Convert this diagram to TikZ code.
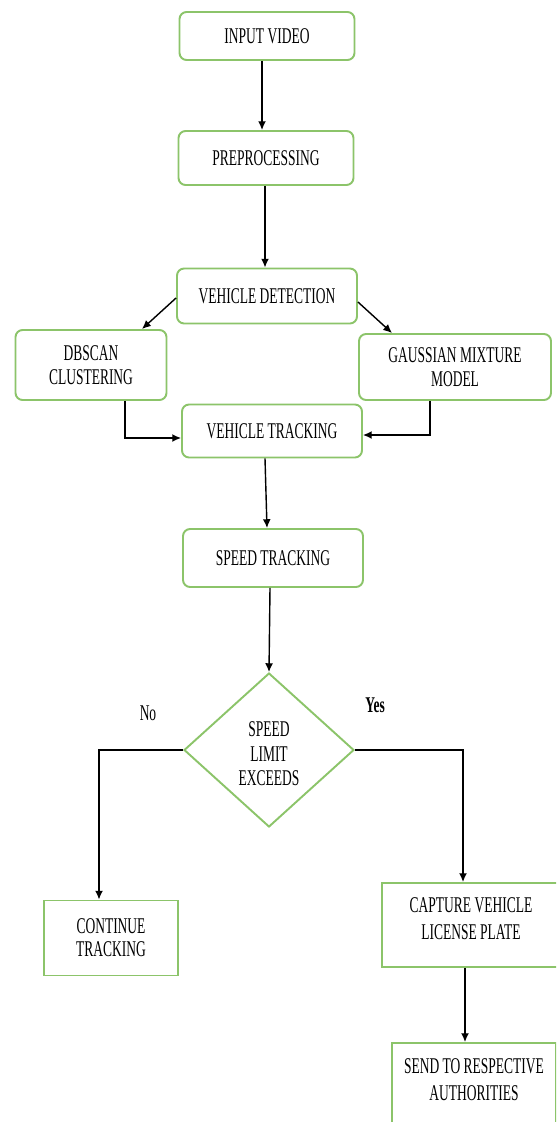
\documentclass[tikz,border=0pt]{standalone}
\usepackage{fontspec}
\setmainfont[FakeStretch=0.6]{Liberation Serif}
\usetikzlibrary{shapes.geometric,arrows.meta}

\definecolor{boxgreen}{RGB}{140,196,106}

\tikzset{
  stepbox/.style={draw=boxgreen, line width=1.1pt, rounded corners=4pt,
    align=center, inner sep=2pt, font=\fontsize{12.8}{14}\selectfont},
  plainbox/.style={stepbox, sharp corners},
  decision/.style={draw=boxgreen, line width=1.1pt, diamond, aspect=1.1,
    align=center, inner sep=0pt, font=\fontsize{12.8}{14}\selectfont},
  flow/.style={draw=black, line width=0.8pt, -{Latex[length=5pt,width=4.5pt]}},
  answer/.style={font=\fontsize{12.8}{14}\selectfont},
}

\begin{document}
\begin{tikzpicture}[%every path/.style={black,thick},
  x=0.02cm, y=-0.02cm]
  \useasboundingbox (0,0) rectangle (556,1122);
  \clip (0,0) rectangle (556,1122);

  \node[stepbox, minimum width=3.5cm, minimum height=0.96cm] (input) at (267,36) {INPUT VIDEO};
  \node[stepbox, minimum width=3.5cm, minimum height=1.08cm] (prep) at (266,158) {PREPROCESSING};
  \node[stepbox, minimum width=3.6cm, minimum height=1.1cm] (detect) at (267,296) {VEHICLE DETECTION};
  \node[stepbox, minimum width=3.02cm, minimum height=1.4cm] (dbscan) at (91,365) {DBSCAN\\CLUSTERING};
  \node[stepbox, minimum width=3.84cm, minimum height=1.32cm] (gmm) at (455,367) {GAUSSIAN MIXTURE\\MODEL};
  \node[stepbox, minimum width=3.6cm, minimum height=1.06cm] (vtrack) at (272,431) {VEHICLE TRACKING};
  \node[stepbox, minimum width=3.6cm, minimum height=1.16cm] (speed) at (273,558) {SPEED TRACKING};
  \node[decision, minimum width=3.4cm, minimum height=3.08cm] (limit) at (269,750) {\mbox{}\\[-1pt]SPEED\\LIMIT\\EXCEEDS};
  \node[plainbox, minimum width=2.68cm, minimum height=1.5cm, font=\fontsize{12.8}{13}\selectfont] (cont) at (111,938) {CONTINUE\\TRACKING};
  \node[plainbox, minimum width=3.56cm, minimum height=1.68cm, font=\fontsize{12.8}{15.5}\selectfont] (capture) at (471,925) {CAPTURE VEHICLE\\LICENSE PLATE\\[-8pt]\mbox{}};
  \node[plainbox, minimum width=3.28cm, minimum height=1.72cm, font=\fontsize{12.8}{15.5}\selectfont] (send) at (474,1086) {SEND TO RESPECTIVE\\AUTHORITIES\\[-8pt]\mbox{}};

  \node[answer] (no) at (148,713) {No};
  \node[answer, font=\fontsize{12.8}{14}\selectfont\bfseries] (yes) at (375,705) {Yes};

  \draw[flow] ([shift={(-5,0)}]input.south) -- ([shift={(-4,0)}]prep.north);
  \draw[flow] ([shift={(-1,0)}]prep.south) -- ([shift={(-2,0)}]detect.north);
  \draw[flow] ([shift={(0,2)}]detect.west) -- ([shift={(51,0)}]dbscan.north);
  \draw[flow] ([shift={(0,6)}]detect.east) -- ([shift={(-63,0)}]gmm.north);
  \draw[flow] ([shift={(34,0)}]dbscan.south) |- ([shift={(0,7)}]vtrack.west);
  \draw[flow] ([shift={(-25,0)}]gmm.south) |- ([shift={(0,4)}]vtrack.east);
  \draw[flow] ([shift={(-7,0)}]vtrack.south) -- ([shift={(-6,0)}]speed.north);
  \draw[flow] ([shift={(-3,0)}]speed.south) -- (limit.north);
  \draw[flow] (limit.west) -| ([shift={(-12,0)}]cont.north);
  \draw[flow] (limit.east) -| ([shift={(-8,0)}]capture.north);
  \draw[flow] ([shift={(-6,0)}]capture.south) -- ([shift={(-9,0)}]send.north);
\end{tikzpicture}
\end{document}
